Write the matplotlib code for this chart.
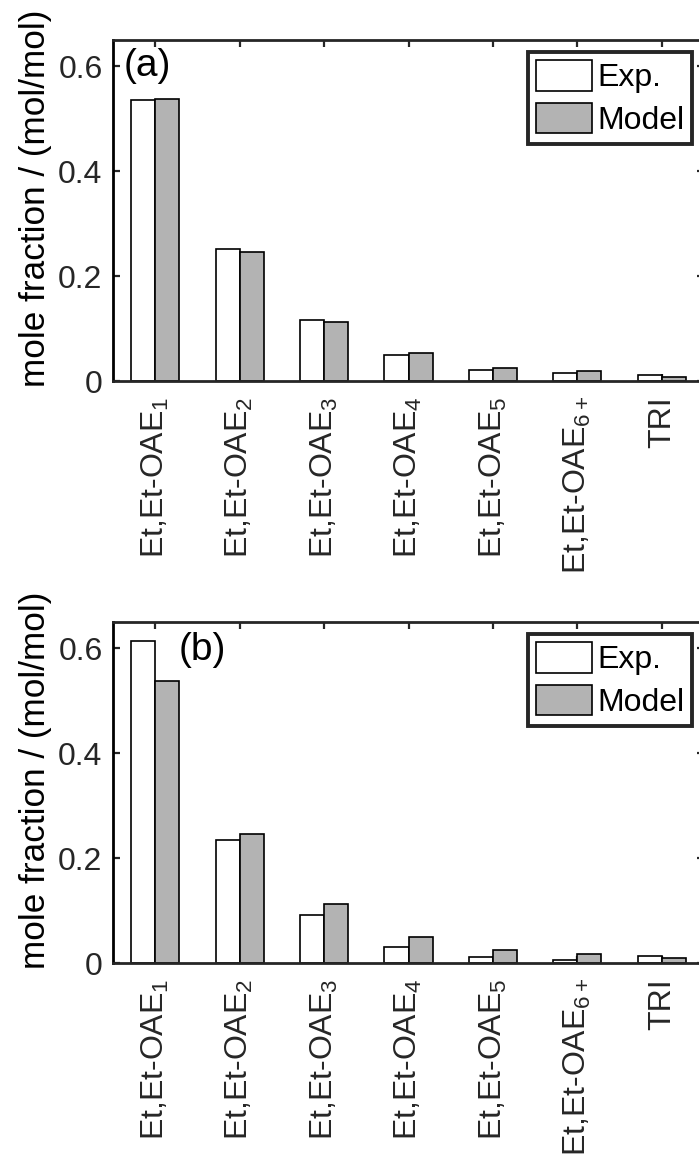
import matplotlib
matplotlib.use("Agg")
import matplotlib.pyplot as plt
import numpy as np

plt.rcParams["font.family"] = ["Liberation Sans", "DejaVu Sans"]
plt.rcParams["mathtext.fontset"] = "custom"
plt.rcParams["mathtext.rm"] = "Liberation Sans"
plt.rcParams["mathtext.it"] = "Liberation Sans:italic"
plt.rcParams["mathtext.bf"] = "Liberation Sans:bold"

CATEGORIES = [
    "Et,Et-OAE$_1$",
    "Et,Et-OAE$_2$",
    "Et,Et-OAE$_3$",
    "Et,Et-OAE$_4$",
    "Et,Et-OAE$_5$",
    "Et,Et-OAE$_{6+}$",
    "TRI",
]

EXP_A = [0.535, 0.251, 0.117, 0.049, 0.021, 0.016, 0.012]
MODEL_A = [0.537, 0.246, 0.113, 0.053, 0.024, 0.019, 0.008]

EXP_B = [0.614, 0.234, 0.092, 0.030, 0.012, 0.006, 0.014]
MODEL_B = [0.537, 0.246, 0.113, 0.050, 0.024, 0.017, 0.010]

PANELS = [("(a)", EXP_A, MODEL_A), ("(b)", EXP_B, MODEL_B)]
PANEL_LABEL_POS = [(0.63, 0.60), (1.28, 0.597)]

AX_COLOR = "#262626"
GRAY = "#b3b3b3"
FS = 23


def plot_panel(ax, exp, model, tag, tag_pos):
    x = np.arange(1, len(CATEGORIES) + 1)
    w = 0.285
    ax.bar(x - w / 2, exp, w, color="white", edgecolor="black",
           linewidth=1.2, label="Exp.", zorder=2)
    ax.bar(x + w / 2, model, w, color=GRAY, edgecolor="black",
           linewidth=1.2, label="Model", zorder=2)

    ax.set_xlim(0.5, 7.5)
    ax.set_ylim(0, 0.65)
    ax.set_xticks(x)
    ax.set_xticklabels(CATEGORIES, rotation=90)
    ax.set_yticks([0, 0.2, 0.4, 0.6])
    ax.set_yticklabels(["0", "0.2", "0.4", "0.6"])
    ax.tick_params(direction="in", length=5, width=1.6, colors=AX_COLOR,
                   labelsize=FS, top=True, right=True)
    ax.tick_params(axis="y", pad=7.5)
    ax.tick_params(axis="x", pad=11)
    for s in ax.spines.values():
        s.set_linewidth(2.0)
        s.set_color(AX_COLOR)
    ax.spines["left"].set_color("black")

    ax.set_ylabel("mole fraction / (mol/mol)", fontsize=25.3, color="black")
    ax.yaxis.set_label_coords(-0.103, 0.537)

    ax.text(tag_pos[0], tag_pos[1], tag, fontsize=28, ha="left", va="center")

    leg = ax.legend(loc="upper right", fontsize=FS, frameon=True,
                    fancybox=False, handlelength=1.75, handleheight=1.1,
                    handletextpad=0.16, labelspacing=0.3, borderpad=0.25,
                    borderaxespad=0.375)
    leg.get_frame().set_edgecolor(AX_COLOR)
    leg.get_frame().set_linewidth(2.8)
    leg.get_frame().set_alpha(1)


fig = plt.figure(figsize=(6.99, 11.55), dpi=100)
ax_a = fig.add_axes([0.1617, 0.6701, 0.8455, 0.2953])
ax_b = fig.add_axes([0.1617, 0.1662, 0.8455, 0.2953])

for ax, (tag, exp, model), pos in zip([ax_a, ax_b], PANELS, PANEL_LABEL_POS):
    plot_panel(ax, exp, model, tag, pos)

fig.savefig("out.png", dpi=100)
